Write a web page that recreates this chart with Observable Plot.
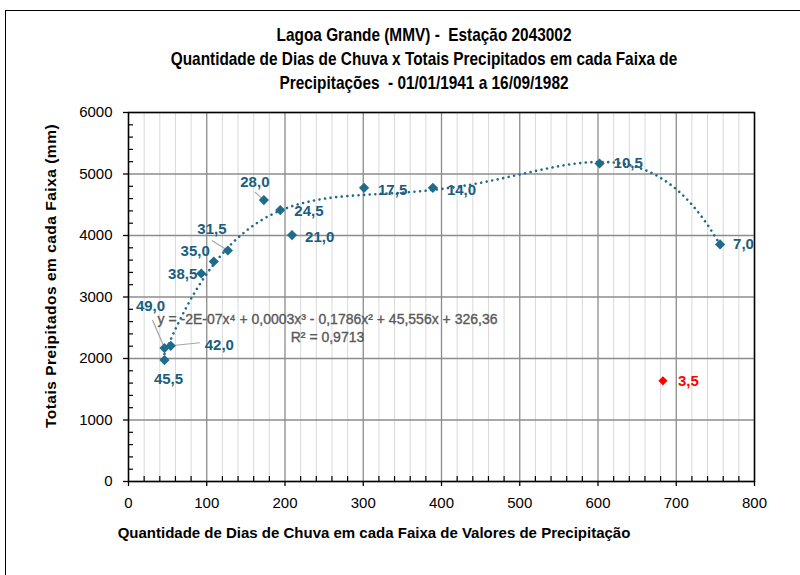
<!DOCTYPE html>
<html>
<head>
<meta charset="utf-8">
<script src="https://cdn.jsdelivr.net/npm/d3@7"></script>
<script src="https://cdn.jsdelivr.net/npm/@observablehq/plot@0.6"></script>
<style>
  html, body { margin: 0; padding: 0; background: #fff; }
  #wrap { position: relative; width: 800px; height: 575px; overflow: hidden; }
  #border { position: absolute; left: 5px; top: 10px; width: 900px; height: 700px; border-left: 1.5px solid #000; border-top: 1.5px solid #000; box-sizing: border-box; }
  #chart { position: absolute; left: 0; top: 0; }
</style>
</head>
<body>
<div id="wrap"><div id="border"></div><div id="chart"></div></div>
<script>
// ---- data ----
const classLabels = ["3,5","7,0","10,5","14,0","17,5","21,0","24,5","28,0","31,5","35,0","38,5","42,0","45,5","49,0"];
const rainDays    = [683, 756, 602, 389, 301, 209, 194, 173, 127, 109, 93, 54, 46, 46];
const totalsMm    = [1637, 3854, 5171, 4776, 4776, 4007, 4413, 4576, 3756, 3577, 3382, 2207, 1974, 2169];
const outlierLabel = "3,5";
const xTicks = [0,100,200,300,400,500,600,700,800];
const yTicks = [0,1000,2000,3000,4000,5000,6000];
const titleLines = [
  "Lagoa Grande (MMV) -  Estação 2043002",
  "Quantidade de Dias de Chuva x Totais Precipitados em cada Faixa de",
  "Precipitações  - 01/01/1941 a 16/09/1982"
];
const xTitle = "Quantidade de Dias de Chuva em cada Faixa de Valores de Precipitação";
const yTitle = "Totais Preipitados em cada Faixa (mm)";
const eqLine1 = "y = -2E-07x⁴ + 0,0003x³ - 0,1786x² + 45,556x + 326,36";
const eqLine2 = "R² = 0,9713";

// ---- label placement (pixel offsets, layout only) ----
const labelLayout = {
  "3,5":  {a:"start",  dx:15,  dy:0},
  "7,0":  {a:"start",  dx:13,  dy:0},
  "10,5": {a:"start",  dx:14,  dy:0},
  "14,0": {a:"start",  dx:14,  dy:2},
  "17,5": {a:"start",  dx:14,  dy:2},
  "21,0": {a:"start",  dx:13,  dy:2},
  "24,5": {a:"start",  dx:14,  dy:1},
  "28,0": {a:"middle", dx:-9,  dy:-18, lead:[-9,-8]},
  "31,5": {a:"middle", dx:-16, dy:-21, lead:[-16,-10]},
  "35,0": {a:"end",    dx:-4,  dy:-10},
  "38,5": {a:"end",    dx:-4,  dy:1},
  "42,0": {a:"start",  dx:34,  dy:-1,  lead:[29,-3]},
  "45,5": {a:"middle", dx:4,   dy:19},
  "49,0": {a:"middle", dx:-14, dy:-42, lead:[-12,-28]}
};

const W = 800, H = 575, ML = 128, MR = 46, MT = 112, MB = 94;
const kx = (W - ML - MR) / 800, ky = (H - MT - MB) / 6000;

const pts = classLabels.map((c, i) => ({c, x: rainDays[i], y: totalsMm[i], red: c === outlierLabel}));
const main = pts.filter(d => !d.red);
const red = pts.filter(d => d.red);

// ---- 4th-degree polynomial least-squares trendline on main series ----
function polyfit(xs, ys, deg) {
  const s = 800;
  const n = deg + 1;
  const A = Array.from({length: n}, () => new Array(n + 1).fill(0));
  xs.forEach((x0, k) => {
    const x = x0 / s;
    for (let i = 0; i < n; i++) {
      for (let j = 0; j < n; j++) A[i][j] += Math.pow(x, i + j);
      A[i][n] += ys[k] * Math.pow(x, i);
    }
  });
  for (let i = 0; i < n; i++) {
    let p = i;
    for (let r = i + 1; r < n; r++) if (Math.abs(A[r][i]) > Math.abs(A[p][i])) p = r;
    [A[i], A[p]] = [A[p], A[i]];
    for (let r = 0; r < n; r++) {
      if (r === i) continue;
      const f = A[r][i] / A[i][i];
      for (let c = i; c <= n; c++) A[r][c] -= f * A[i][c];
    }
  }
  const coef = A.map((row, i) => row[n] / row[i]);
  return x => coef.reduce((acc, c, i) => acc + c * Math.pow(x / s, i), 0);
}
const f = polyfit(main.map(d => d.x), main.map(d => d.y), 4);
const xmin = d3.min(main, d => d.x), xmax = d3.max(main, d => d.x);
const trend = d3.range(0, 201).map(i => { const x = xmin + (xmax - xmin) * i / 200; return {x, y: f(x)}; });

const minorX = d3.range(0, 801, 20).filter(v => v % 100 !== 0);
const minorY = d3.range(0, 6001, 200).filter(v => v % 1000 !== 0);

const labels = pts.map(d => {
  const L = labelLayout[d.c];
  return {...d, a: L.a, lx: d.x + L.dx / kx, ly: d.y - L.dy / ky, lead: L.lead};
});
const leads = labels.filter(d => d.lead).map(d => ({x1: d.x, y1: d.y, x2: d.x + d.lead[0] / kx, y2: d.y - d.lead[1] / ky}));

const teal = "#1f6b8c", tealText = "#1b5d7d";
const sans = "Liberation Sans, Arial, sans-serif";
const labelFont = {fontSize: 15, fontWeight: "bold", fontFamily: sans};

const textMarks = ["start", "middle", "end"].map(a =>
  Plot.text(labels.filter(d => d.a === a && !d.red), {x: "lx", y: "ly", text: "c", textAnchor: a, fill: tealText, ...labelFont}));

const plot = Plot.plot({
  width: W, height: H,
  marginLeft: ML, marginRight: MR, marginTop: MT, marginBottom: MB,
  style: {background: "transparent", fontFamily: sans},
  x: {domain: [0, 800]},
  y: {domain: [0, 6000]},
  marks: [
    Plot.ruleX(minorX, {stroke: "#d9d9d9", strokeWidth: 1}),
    Plot.ruleX(xTicks, {stroke: "#8c8c8c", strokeWidth: 1.3}),
    Plot.ruleY(yTicks, {stroke: "#8c8c8c", strokeWidth: 1.3}),
    Plot.ruleX(minorX, {y1: 0, y2: 5 / ky, stroke: "#000", strokeWidth: 1.2}),
    Plot.ruleY(minorY, {x1: 0, x2: 5 / kx, stroke: "#000", strokeWidth: 1.2}),
    Plot.frame({stroke: "#000", strokeWidth: 1.5}),
    Plot.axisX({ticks: xTicks, tickSize: 5, tickPadding: 11, fontSize: 15, label: null, stroke: "#000", strokeWidth: 1.3, tickFormat: d => String(d), fill: "#000"}),
    Plot.axisY({ticks: yTicks, tickSize: 5, tickPadding: 11, fontSize: 15, label: null, stroke: "#000", strokeWidth: 1.3, tickFormat: d => String(d), fill: "#000"}),
    Plot.line(trend, {x: "x", y: "y", stroke: teal, strokeWidth: 2.6, strokeDasharray: "0.01 5.6", strokeLinecap: "round"}),
    Plot.link(leads, {x1: "x1", y1: "y1", x2: "x2", y2: "y2", stroke: "#a6a6a6", strokeWidth: 1.2}),
    Plot.dot(main, {x: "x", y: "y", symbol: "diamond2", r: 4.6, fill: teal, stroke: null}),
    Plot.dot(red, {x: "x", y: "y", symbol: "diamond2", r: 4.1, fill: "#ff0000", stroke: null}),
    ...textMarks,
    Plot.text(labels.filter(d => d.red), {x: "lx", y: "ly", text: "c", textAnchor: "start", fill: "#ff0000", ...labelFont}),
    Plot.text([eqLine1], {x: 0, y: 0, dx: 327 - ML, dy: 319 - (H - MB), text: d => d, textAnchor: "middle", fill: "#595959", stroke: "#595959", strokeWidth: 0.35, fontSize: 14, fontFamily: sans}),
    Plot.text([eqLine2], {x: 0, y: 0, dx: 327 - ML, dy: 337 - (H - MB), text: d => d, textAnchor: "middle", fill: "#595959", stroke: "#595959", strokeWidth: 0.35, fontSize: 14, fontFamily: sans})
  ]
});
document.getElementById("chart").appendChild(plot);

// ---- titles (SVG text added to the plot's svg) ----
const svg = d3.select(plot);
const titleFont = "'Liberation Sans Narrow', 'Arial Narrow', sans-serif";
const tg = svg.append("g").attr("transform", "translate(424,0) scale(0.855,1)");
[35, 59, 83].forEach((cy, i) => {
  tg.append("text").attr("x", 0).attr("y", cy).attr("dy", "0.35em")
    .attr("text-anchor", "middle").attr("font-family", titleFont).attr("font-weight", "bold")
    .attr("font-size", 18).attr("fill", "#000").text(titleLines[i]);
});
svg.append("text").attr("x", 374).attr("y", 533).attr("dy", "0.35em")
  .attr("text-anchor", "middle").attr("font-family", sans).attr("font-weight", "bold")
  .attr("font-size", 15).attr("fill", "#000").text(xTitle);
svg.append("text").attr("transform", "translate(51,276) rotate(-90)").attr("dy", "0.35em")
  .attr("text-anchor", "middle").attr("font-family", sans).attr("font-weight", "bold")
  .attr("font-size", 15.5).attr("letter-spacing", "0.5px").attr("fill", "#000").text(yTitle);
</script>
</body>
</html>
